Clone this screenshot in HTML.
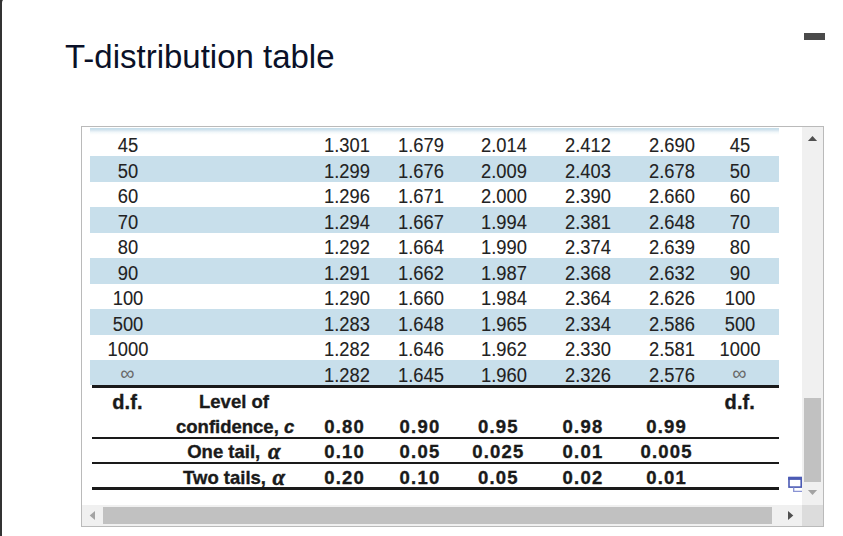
<!DOCTYPE html>
<html><head><meta charset="utf-8"><style>
html,body{margin:0;padding:0;width:843px;height:536px;overflow:hidden;background:#333;}
body{font-family:"Liberation Sans",sans-serif;position:relative;}
.panel{position:absolute;left:2px;top:-1px;width:841px;height:537px;background:#fff;border-top-left-radius:4px;}
.t{position:absolute;white-space:nowrap;line-height:20px;font-size:18.5px;color:#222;}
.al{font:italic bold 22.5px/20px "Liberation Serif",serif;color:#1a1a1a;white-space:nowrap;-webkit-text-stroke:0.5px #1a1a1a;}
.b{font-weight:bold;-webkit-text-stroke:0.35px #1a1a1a;color:#1a1a1a;}
.c{transform:translateX(-50%);}
.n{-webkit-text-stroke:0.1px #222;font-size:19.5px;transform:scaleX(0.94);transform-origin:0 0;}
.nc{-webkit-text-stroke:0.1px #222;font-size:19.5px;transform:translateX(-50%) scaleX(0.94);}
.box{position:absolute;left:81px;top:126px;width:741px;height:399px;border:1px solid #bababa;background:#fff;overflow:hidden;}
.row{position:absolute;height:25.5px;background:#c8dfeb;}
.rule{position:absolute;background:#1a1a1a;}
</style></head><body>
<div class="panel"></div>
<div style="position:absolute;left:65px;top:38px;font-size:34px;line-height:36px;color:#0a1128;transform:scaleX(0.97);transform-origin:0 0;white-space:nowrap;">T<span style="position:relative;top:2px">-</span>distribution table</div>
<div style="position:absolute;left:804px;top:33px;width:21px;height:6.5px;background:#4a4a4a;"></div>

<div class="box"><div class="row" style="left:8px;top:29.27px;width:689px;height:25.47px"></div>
<div class="row" style="left:8px;top:80.21px;width:689px;height:25.47px"></div>
<div class="row" style="left:8px;top:131.15px;width:689px;height:25.47px"></div>
<div class="row" style="left:8px;top:182.09px;width:689px;height:25.47px"></div>
<div class="row" style="left:8px;top:233.03px;width:689px;height:25.47px"></div>
<div class="t nc" style="left:45.5px;top:8.00px">45</div>
<div class="t nc" style="left:657.5px;top:8.00px">45</div>
<div class="t n" style="left:241.60000000000002px;top:8.00px">1.301</div>
<div class="t n" style="left:316.1px;top:8.00px">1.679</div>
<div class="t n" style="left:399.2px;top:8.00px">2.014</div>
<div class="t n" style="left:482.9px;top:8.00px">2.412</div>
<div class="t n" style="left:566.9px;top:8.00px">2.690</div>
<div class="t nc" style="left:45.5px;top:34.00px">50</div>
<div class="t nc" style="left:657.5px;top:34.00px">50</div>
<div class="t n" style="left:241.60000000000002px;top:34.00px">1.299</div>
<div class="t n" style="left:316.1px;top:34.00px">1.676</div>
<div class="t n" style="left:399.2px;top:34.00px">2.009</div>
<div class="t n" style="left:482.9px;top:34.00px">2.403</div>
<div class="t n" style="left:566.9px;top:34.00px">2.678</div>
<div class="t nc" style="left:45.5px;top:59.00px">60</div>
<div class="t nc" style="left:657.5px;top:59.00px">60</div>
<div class="t n" style="left:241.60000000000002px;top:59.00px">1.296</div>
<div class="t n" style="left:316.1px;top:59.00px">1.671</div>
<div class="t n" style="left:399.2px;top:59.00px">2.000</div>
<div class="t n" style="left:482.9px;top:59.00px">2.390</div>
<div class="t n" style="left:566.9px;top:59.00px">2.660</div>
<div class="t nc" style="left:45.5px;top:85.00px">70</div>
<div class="t nc" style="left:657.5px;top:85.00px">70</div>
<div class="t n" style="left:241.60000000000002px;top:85.00px">1.294</div>
<div class="t n" style="left:316.1px;top:85.00px">1.667</div>
<div class="t n" style="left:399.2px;top:85.00px">1.994</div>
<div class="t n" style="left:482.9px;top:85.00px">2.381</div>
<div class="t n" style="left:566.9px;top:85.00px">2.648</div>
<div class="t nc" style="left:45.5px;top:110.00px">80</div>
<div class="t nc" style="left:657.5px;top:110.00px">80</div>
<div class="t n" style="left:241.60000000000002px;top:110.00px">1.292</div>
<div class="t n" style="left:316.1px;top:110.00px">1.664</div>
<div class="t n" style="left:399.2px;top:110.00px">1.990</div>
<div class="t n" style="left:482.9px;top:110.00px">2.374</div>
<div class="t n" style="left:566.9px;top:110.00px">2.639</div>
<div class="t nc" style="left:45.5px;top:136.00px">90</div>
<div class="t nc" style="left:657.5px;top:136.00px">90</div>
<div class="t n" style="left:241.60000000000002px;top:136.00px">1.291</div>
<div class="t n" style="left:316.1px;top:136.00px">1.662</div>
<div class="t n" style="left:399.2px;top:136.00px">1.987</div>
<div class="t n" style="left:482.9px;top:136.00px">2.368</div>
<div class="t n" style="left:566.9px;top:136.00px">2.632</div>
<div class="t nc" style="left:45.5px;top:161.00px">100</div>
<div class="t nc" style="left:657.5px;top:161.00px">100</div>
<div class="t n" style="left:241.60000000000002px;top:161.00px">1.290</div>
<div class="t n" style="left:316.1px;top:161.00px">1.660</div>
<div class="t n" style="left:399.2px;top:161.00px">1.984</div>
<div class="t n" style="left:482.9px;top:161.00px">2.364</div>
<div class="t n" style="left:566.9px;top:161.00px">2.626</div>
<div class="t nc" style="left:45.5px;top:187.00px">500</div>
<div class="t nc" style="left:657.5px;top:187.00px">500</div>
<div class="t n" style="left:241.60000000000002px;top:187.00px">1.283</div>
<div class="t n" style="left:316.1px;top:187.00px">1.648</div>
<div class="t n" style="left:399.2px;top:187.00px">1.965</div>
<div class="t n" style="left:482.9px;top:187.00px">2.334</div>
<div class="t n" style="left:566.9px;top:187.00px">2.586</div>
<div class="t nc" style="left:45.5px;top:212.00px">1000</div>
<div class="t nc" style="left:657.5px;top:212.00px">1000</div>
<div class="t n" style="left:241.60000000000002px;top:212.00px">1.282</div>
<div class="t n" style="left:316.1px;top:212.00px">1.646</div>
<div class="t n" style="left:399.2px;top:212.00px">1.962</div>
<div class="t n" style="left:482.9px;top:212.00px">2.330</div>
<div class="t n" style="left:566.9px;top:212.00px">2.581</div>
<div class="t c" style="left:45.5px;top:236.00px;color:#6a6a6a;font-size:20px;-webkit-text-stroke:0">∞</div>
<div class="t c" style="left:657.5px;top:236.00px;color:#6a6a6a;font-size:20px;-webkit-text-stroke:0">∞</div>
<div class="t n" style="left:241.60000000000002px;top:238.00px">1.282</div>
<div class="t n" style="left:316.1px;top:238.00px">1.645</div>
<div class="t n" style="left:399.2px;top:238.00px">1.960</div>
<div class="t n" style="left:482.9px;top:238.00px">2.326</div>
<div class="t n" style="left:566.9px;top:238.00px">2.576</div>
<div class="row" style="left:8px;top:1px;width:689px;height:7px;background:linear-gradient(#c8dfeb 15%,#dde9f1 38%,#f1f7fa 60%,#fbfdfd 85%,#fff)"></div>
<div class="rule" style="left:9.5px;top:258px;width:687.5px;height:2.5px"></div>
<div class="rule" style="left:9.5px;top:309.6px;width:687.5px;height:2px"></div>
<div class="rule" style="left:9.5px;top:334.8px;width:687.5px;height:2px"></div>
<div class="rule" style="left:9.5px;top:360.3px;width:687.5px;height:2.6px"></div>
<div class="t b" style="left:30.200000000000003px;top:264.60px;letter-spacing:0.1px;font-size:20px">d.f.</div>
<div class="t b" style="left:642.6px;top:264.60px;letter-spacing:0.1px;font-size:20px">d.f.</div>
<div class="t b" style="left:117px;top:265.00px;">Level of</div>
<div class="t b" style="left:94px;top:290.00px;">confidence, <i>c</i></div>
<div class="t b" style="left:105.19999999999999px;top:315.30px;">One tail,</div>
<div class="t b" style="left:101.1px;top:340.50px;">Two tails,</div>
<div class="al" style="position:absolute;left:186px;top:315px">α</div>
<div class="al" style="position:absolute;left:190.60000000000002px;top:340.5px">α</div>
<div class="t b c" style="left:262.6px;top:289.50px;letter-spacing:1.2px">0.80</div>
<div class="t b c" style="left:338.0px;top:289.50px;letter-spacing:1.2px">0.90</div>
<div class="t b c" style="left:416.4px;top:289.50px;letter-spacing:1.2px">0.95</div>
<div class="t b c" style="left:501.0px;top:289.50px;letter-spacing:1.2px">0.98</div>
<div class="t b c" style="left:584.6px;top:289.50px;letter-spacing:1.2px">0.99</div>
<div class="t b c" style="left:262.6px;top:315.30px;letter-spacing:1.2px">0.10</div>
<div class="t b c" style="left:338.0px;top:315.30px;letter-spacing:1.2px">0.05</div>
<div class="t b c" style="left:416.4px;top:315.30px;letter-spacing:1.2px">0.025</div>
<div class="t b c" style="left:501.0px;top:315.30px;letter-spacing:1.2px">0.01</div>
<div class="t b c" style="left:584.6px;top:315.30px;letter-spacing:1.2px">0.005</div>
<div class="t b c" style="left:262.6px;top:340.70px;letter-spacing:1.2px">0.20</div>
<div class="t b c" style="left:338.0px;top:340.70px;letter-spacing:1.2px">0.10</div>
<div class="t b c" style="left:416.4px;top:340.70px;letter-spacing:1.2px">0.05</div>
<div class="t b c" style="left:501.0px;top:340.70px;letter-spacing:1.2px">0.02</div>
<div class="t b c" style="left:584.6px;top:340.70px;letter-spacing:1.2px">0.01</div>

<div style="position:absolute;left:720px;top:0;width:21px;height:378px;background:#f0f0f0"></div>
<svg style="position:absolute;left:720px;top:0" width="21" height="378">
 <polygon points="5.9,14 10.5,9 15.1,14" fill="#505050"/>
 <polygon points="5.9,363 15.1,363 10.5,368" fill="#a3a3a3"/>
</svg>
<div style="position:absolute;left:722px;top:271px;width:17px;height:84px;background:#c1c1c1"></div>
<div style="position:absolute;left:0;top:378px;width:720px;height:21px;background:#f0f0f0"></div>
<div style="position:absolute;left:21px;top:380px;width:669px;height:17px;background:#c1c1c1"></div>
<svg style="position:absolute;left:0;top:378px" width="720" height="21">
 <polygon points="13,6 13,15 7.7,10.5" fill="#a3a3a3"/>
 <polygon points="706,6 706,15 711.3,10.5" fill="#505050"/>
</svg>
<div style="position:absolute;left:720px;top:378px;width:21px;height:21px;background:#dcdcdc"></div>

</div>
<svg style="position:absolute;left:788px;top:476px" width="15" height="17">
 <rect x="1" y="1.9" width="12.2" height="9.2" fill="none" stroke="#4b5ab4" stroke-width="1.6"/>
 <rect x="0.2" y="0.7" width="13.8" height="3.2" fill="#4b5ab4"/>
 <path d="M5.7 11.5 V15.3 H14" fill="none" stroke="#8a94d4" stroke-width="1.3"/>
</svg>
</body></html>
